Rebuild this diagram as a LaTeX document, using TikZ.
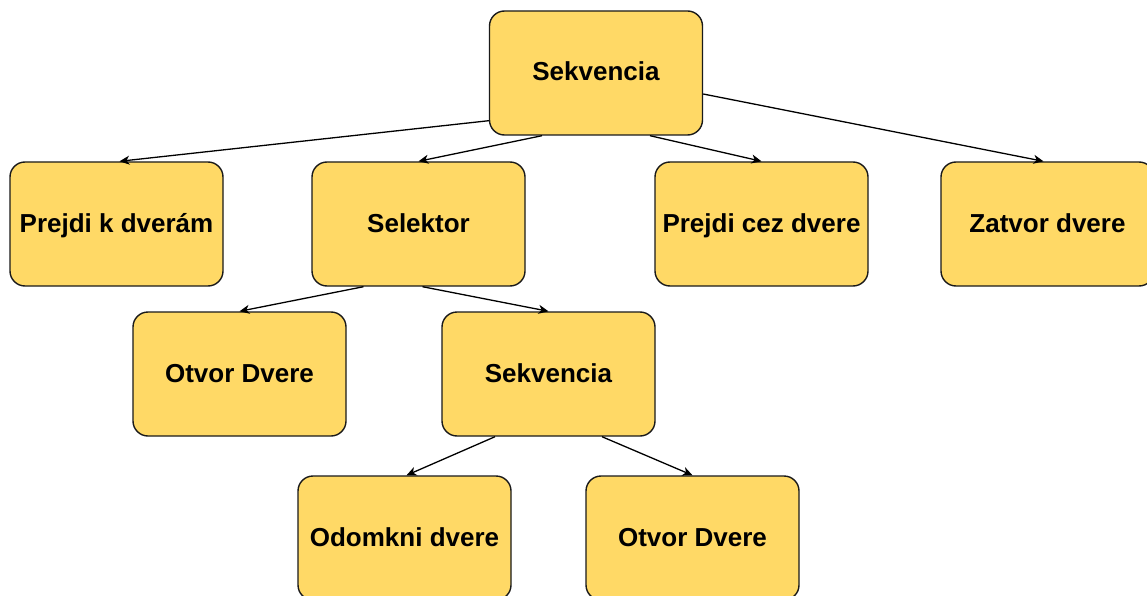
\documentclass[tikz,border=0pt]{standalone}
\usepackage{fontspec}
\setmainfont{Liberation Sans}
\usetikzlibrary{arrows.meta}
\definecolor{boxfill}{HTML}{FFD966}
\definecolor{boxline}{HTML}{1A1A1A}
\tikzset{
  treebox/.style={draw=boxline, fill=boxfill, line width=1.4pt, rounded corners=15pt,
    minimum width=213pt, minimum height=124pt, inner sep=0pt,
    text height=21pt, text depth=5pt,
    font=\fontsize{26}{30}\selectfont\bfseries},
  link/.style={draw=black, line width=1.3pt, -{Stealth[length=10pt,width=9pt,inset=3pt]}}
}
\begin{document}
\begin{tikzpicture}[x=1pt,y=-1pt]
  \useasboundingbox (0,0) rectangle (1147,596);
  \clip (0,0) rectangle (1147,596);
  \fill[white] (0,0) rectangle (1147,596);

  % nodes
  \node[treebox] (root) at (596,73) {Sekvencia};
  \node[treebox] (walk) at (116.5,224) {Prejdi k dverám};
  \node[treebox] (sel) at (418.5,224) {Selektor};
  \node[treebox] (through) at (761.5,224) {Prejdi cez dvere};
  \node[treebox] (close) at (1047.5,224) {Zatvor dvere};
  \node[treebox] (open1) at (239.5,374) {Otvor Dvere};
  \node[treebox] (seq) at (548.5,374) {Sekvencia};
  \node[treebox] (unlock) at (404.5,538) {Odomkni dvere};
  \node[treebox] (open2) at (692.5,538) {Otvor Dvere};

  % connectors
  \draw[link] ([yshift=15pt]root.south west) -- ([xshift=3pt]walk.north);
  \draw[link] ([xshift=-54pt]root.south) -- (sel.north);
  \draw[link] ([xshift=54pt]root.south) -- (through.north);
  \draw[link] ([yshift=-21pt]root.east) -- ([xshift=-4pt]close.north);
  \draw[link] ([xshift=-55pt]sel.south) -- (open1.north);
  \draw[link] ([xshift=4pt]sel.south) -- (seq.north);
  \draw[link] ([xshift=-53.5pt]seq.south) -- ([xshift=2pt]unlock.north);
  \draw[link] ([xshift=53.5pt]seq.south) -- (open2.north);
\end{tikzpicture}
\end{document}
